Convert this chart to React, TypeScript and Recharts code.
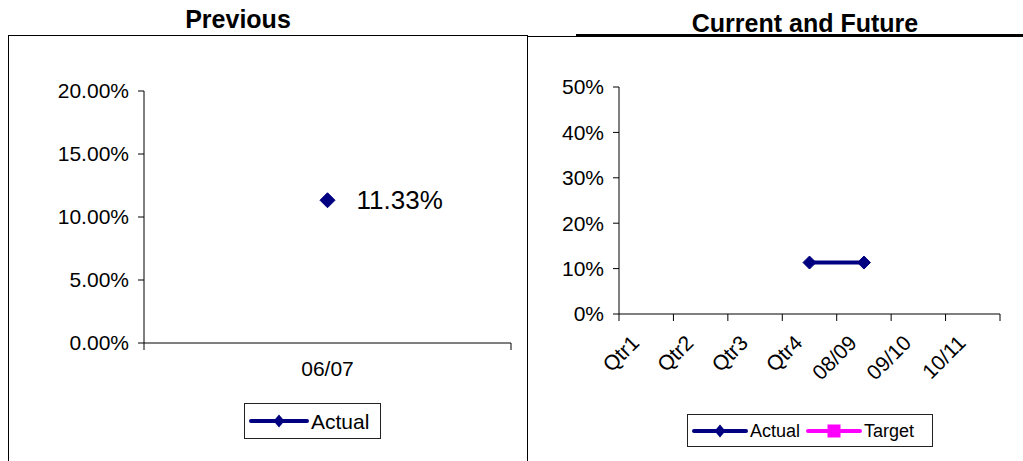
import React from 'react';
import { LineChart, Line, XAxis, YAxis, Legend, LabelList } from 'recharts';

// ---------- data ----------
const prevCategories = ['06/07'];
const prevActual = [0.1133];
const prevTicks = [0, 0.05, 0.1, 0.15, 0.2];

const curCategories = ['Qtr1', 'Qtr2', 'Qtr3', 'Qtr4', '08/09', '09/10', '10/11'];
const curActual: (number | null)[] = [null, null, null, 0.1133, 0.1133, null, null];
const curTarget: (number | null)[] = [null, null, null, null, null, null, null];
const curTicks = [0, 0.1, 0.2, 0.3, 0.4, 0.5];

const prevTitle = 'Previous';
const curTitle = 'Current and Future';

const NAVY = '#000080';
const MAGENTA = '#FF00FF';
const FONT = '"Liberation Sans", Arial, Helvetica, sans-serif';

const prevData = prevCategories.map((c, i) => ({ cat: c, actual: prevActual[i] }));
const curData = curCategories.map((c, i) => ({ cat: c, actual: curActual[i], target: curTarget[i] }));

// ---------- helpers ----------
const diamondDot = (half: number) => (props: any) => {
  const { cx, cy, index, value } = props;
  if (cx == null || cy == null || value == null) return <g key={`e-${index}`} />;
  return (
    <path
      key={`d-${index}`}
      d={`M${cx},${cy - half} L${cx + half},${cy} L${cx},${cy + half} L${cx - half},${cy} Z`}
      fill={NAVY}
      stroke={NAVY}
      strokeWidth={1}
    />
  );
};

const boundaryTick = (count: number, plotW: number, rotated: boolean, fontSize: number) => (props: any) => {
  const { x, y, payload, index } = props;
  const half = plotW / count / 2;
  const axisY = y - 8; // tickSize 6 + tickMargin 2
  const left = x - half;
  const right = x + half;
  const ax = x - 11;
  const ay = axisY + 25;
  return (
    <g>
      <line x1={left} x2={left} y1={axisY} y2={axisY + 7} stroke="#000" strokeWidth={1} />
      {index === count - 1 && (
        <line x1={right} x2={right} y1={axisY} y2={axisY + 7} stroke="#000" strokeWidth={1} />
      )}
      {rotated ? (
        <text
          x={ax}
          y={ay}
          textAnchor="end"
          dy="0.35em"
          transform={`rotate(-45, ${ax}, ${ay})`}
          fontSize={fontSize}
          fontFamily={FONT}
          fill="#000"
        >
          {payload.value}
        </text>
      ) : (
        <text x={x} y={axisY + 18} textAnchor="middle" dy="0.71em" fontSize={fontSize} fontFamily={FONT} fill="#000">
          {payload.value}
        </text>
      )}
    </g>
  );
};

const LegendIcon = ({ color, marker, w }: { color: string; marker: 'diamond' | 'square'; w: number }) => {
  const h = 14;
  const cx = w / 2;
  const cy = h / 2;
  return (
    <svg width={w} height={h} style={{ display: 'block' }}>
      <line x1={2} x2={w - 2} y1={cy} y2={cy} stroke={color} strokeWidth={4} strokeLinecap="round" />
      {marker === 'diamond' ? (
        <path d={`M${cx},${cy - 6.5} L${cx + 5.5},${cy} L${cx},${cy + 6.5} L${cx - 5.5},${cy} Z`} fill={color} />
      ) : (
        <rect x={cx - 6.5} y={cy - 6.5} width={13} height={13} fill={color} />
      )}
    </svg>
  );
};

const legendBox = (
  items: { name: string; color: string; marker: 'diamond' | 'square' }[],
  fontSize: number,
  iconW: number,
  width: number,
  height: number
) => () => (
  <div
    style={{
      width,
      height,
      boxSizing: 'border-box',
      border: '1px solid #222',
      display: 'flex',
      alignItems: 'center',
      paddingLeft: 4,
      background: '#fff',
      fontFamily: FONT,
      fontSize,
      color: '#000',
    }}
  >
    {items.map((it) => (
      <div key={it.name} style={{ display: 'flex', alignItems: 'center', marginRight: 6 }}>
        <LegendIcon color={it.color} marker={it.marker} w={iconW} />
        <span style={{ marginLeft: 2, lineHeight: 1 }}>{it.name}</span>
      </div>
    ))}
  </div>
);

const fmtPrev = (v: number) => (v * 100).toFixed(2) + '%';
const fmtCur = (v: number) => (v * 100).toFixed(0) + '%';

export default function App() {
  return (
    <div
      style={{
        position: 'absolute',
        left: 0,
        top: 0,
        width: 1023,
        height: 461,
        overflow: 'hidden',
        background: '#fff',
        fontFamily: FONT,
      }}
    >
      {/* titles and frame lines */}
      <svg width={1023} height={461} style={{ position: 'absolute', left: 0, top: 0 }}>
        <text x={238} y={28} textAnchor="middle" fontSize={25} fontWeight="bold" fontFamily={FONT} fill="#000">
          {prevTitle}
        </text>
        <text x={805} y={32} textAnchor="middle" fontSize={25} fontWeight="bold" fontFamily={FONT} fill="#000">
          {curTitle}
        </text>
        <line x1={527} x2={577} y1={36.5} y2={36.5} stroke="#000" strokeWidth={1} />
        <line x1={576} x2={1023} y1={35.5} y2={35.5} stroke="#000" strokeWidth={3} />
      </svg>

      {/* left panel box */}
      <div
        style={{
          position: 'absolute',
          left: 8,
          top: 35,
          width: 518,
          height: 460,
          border: '1px solid #000',
          background: '#fff',
        }}
      >
        <LineChart
          width={518}
          height={440}
          data={prevData}
          margin={{ top: 55, right: 16, bottom: 93, left: 0 }}
        >
          <XAxis
            dataKey="cat"
            scale="band"
            interval={0}
            height={40}
            stroke="#000"
            tickLine={false}
            tickSize={6}
            tick={boundaryTick(prevCategories.length, 367, false, 21)}
          />
          <YAxis
            width={135}
            domain={[0, 0.2]}
            ticks={prevTicks}
            tickFormatter={fmtPrev}
            stroke="#000"
            tickSize={6}
            tickMargin={9}
            tick={{ fontSize: 21, fill: '#000', fontFamily: FONT }}
          />
          <Legend
            verticalAlign="middle"
            align="center"
            layout="horizontal"
            wrapperStyle={{ left: 235, top: 367, width: 137, height: 36 }}
            content={legendBox([{ name: 'Actual', color: NAVY, marker: 'diamond' }], 21, 60, 137, 36)}
          />
          <Line
            dataKey="actual"
            name="Actual"
            stroke={NAVY}
            strokeWidth={4}
            dot={diamondDot(7.5)}
            isAnimationActive={false}
          >
            <LabelList
              dataKey="actual"
              content={(p: any) => (
                <text x={p.x + 29} y={p.y} dy="0.35em" fontSize={26} fontFamily={FONT} fill="#000">
                  {fmtPrev(p.value)}
                </text>
              )}
            />
          </Line>
        </LineChart>
      </div>

      {/* right panel */}
      <div style={{ position: 'absolute', left: 527, top: 36, width: 496, height: 430 }}>
        <LineChart
          width={496}
          height={430}
          data={curData}
          margin={{ top: 51, right: 23, bottom: 82, left: 0 }}
        >
          <XAxis
            dataKey="cat"
            scale="band"
            interval={0}
            height={70}
            stroke="#000"
            tickLine={false}
            tickSize={6}
            tick={boundaryTick(curCategories.length, 381, true, 21)}
          />
          <YAxis
            width={92}
            domain={[0, 0.5]}
            ticks={curTicks}
            tickFormatter={fmtCur}
            stroke="#000"
            tickSize={6}
            tickMargin={9}
            tick={{ fontSize: 21, fill: '#000', fontFamily: FONT }}
          />
          <Legend
            verticalAlign="middle"
            align="center"
            layout="horizontal"
            wrapperStyle={{ left: 160, top: 378, width: 246, height: 33 }}
            content={legendBox(
              [
                { name: 'Actual', color: NAVY, marker: 'diamond' },
                { name: 'Target', color: MAGENTA, marker: 'square' },
              ],
              18,
              56,
              246,
              33
            )}
          />
          <Line
            dataKey="actual"
            name="Actual"
            stroke={NAVY}
            strokeWidth={4}
            dot={diamondDot(6.5)}
            isAnimationActive={false}
          />
          <Line
            dataKey="target"
            name="Target"
            stroke={MAGENTA}
            strokeWidth={4}
            dot={false}
            isAnimationActive={false}
          />
        </LineChart>
      </div>
    </div>
  );
}
